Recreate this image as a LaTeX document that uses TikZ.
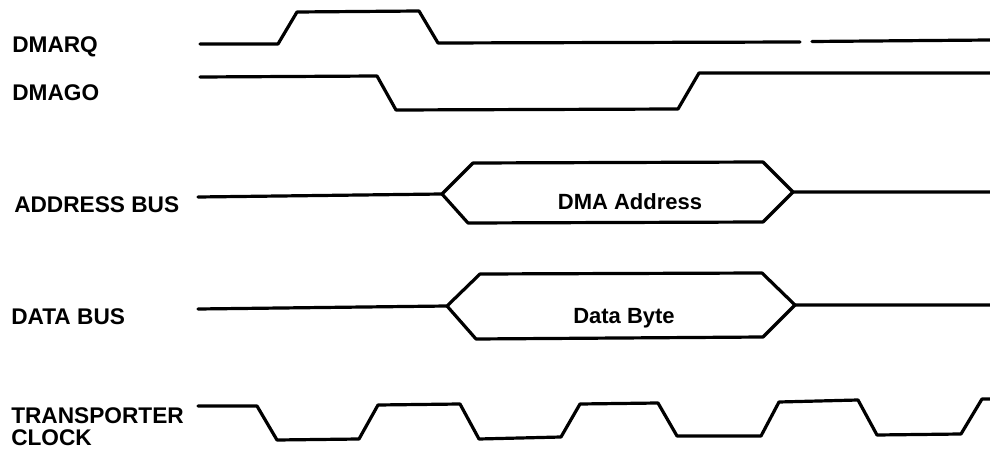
\documentclass[tikz,border=0pt]{standalone}
\usepackage{fontspec}
\setmainfont{Liberation Sans}

\begin{document}
\begin{tikzpicture}[x=0.75pt,y=-0.75pt,wave/.style={line width=2.4pt,line join=round,line cap=round},signal/.style={anchor=west,inner sep=0pt,font=\fontsize{17}{18}\selectfont\bfseries},value/.style={inner sep=0pt,font=\fontsize{16.5}{18}\selectfont\bfseries}]
\useasboundingbox (0,0) rectangle (990,449);
\def\xa{442};
\def\xb{793};

\node[signal] (DMARQ) at (12,47) {DMARQ};
\draw[wave] (200,44) -- (278,44) -- (297,12) -- (419,11) -- (438,43) -- (800,42);
\draw[wave] (812,41.5) -- (990,40);

\node[signal] (DMAGO) at (12,93) {DMAGO};
\draw[wave] (200,77) -- (377,76) -- (396,110) -- (678,109) -- (699,73) -- (990,73);

\node[signal] (ADDR) at (14,205) {ADDRESS BUS};
\draw[wave] (198,197) -- (\xa,194) -- (473,163) -- (763,162) -- (\xb,192) -- (990,192);
\draw[wave] (\xa,194) -- (468,223) -- (763,222) -- (\xb,192);
\node[value] (DMAAddr) at (630,202) {DMA Address};

\node[signal] (DATA) at (11,317) {DATA BUS};
\draw[wave] (198,309) -- (447,306) -- (480,274) -- (762,273) -- (795,305) -- (990,305);
\draw[wave] (447,306) -- (476,339) -- (763,337) -- (795,305);
\node[value] (DataByte) at (624,318) {Data Byte};

\node[signal] (TRANS) at (11,416) {TRANSPORTER};
\node[signal] (CLK) at (11,438) {CLOCK};
\draw[wave] (198,406) -- (257,406) -- (277,440) -- (359,439) -- (378,405) -- (460,404) -- (479,439) -- (561,437) -- (580,404) -- (658,403) -- (677,436) -- (761,436) -- (779,402) -- (858,400) -- (877,435) -- (961,434) -- (982,399) -- (990,399);
\end{tikzpicture}
\end{document}
